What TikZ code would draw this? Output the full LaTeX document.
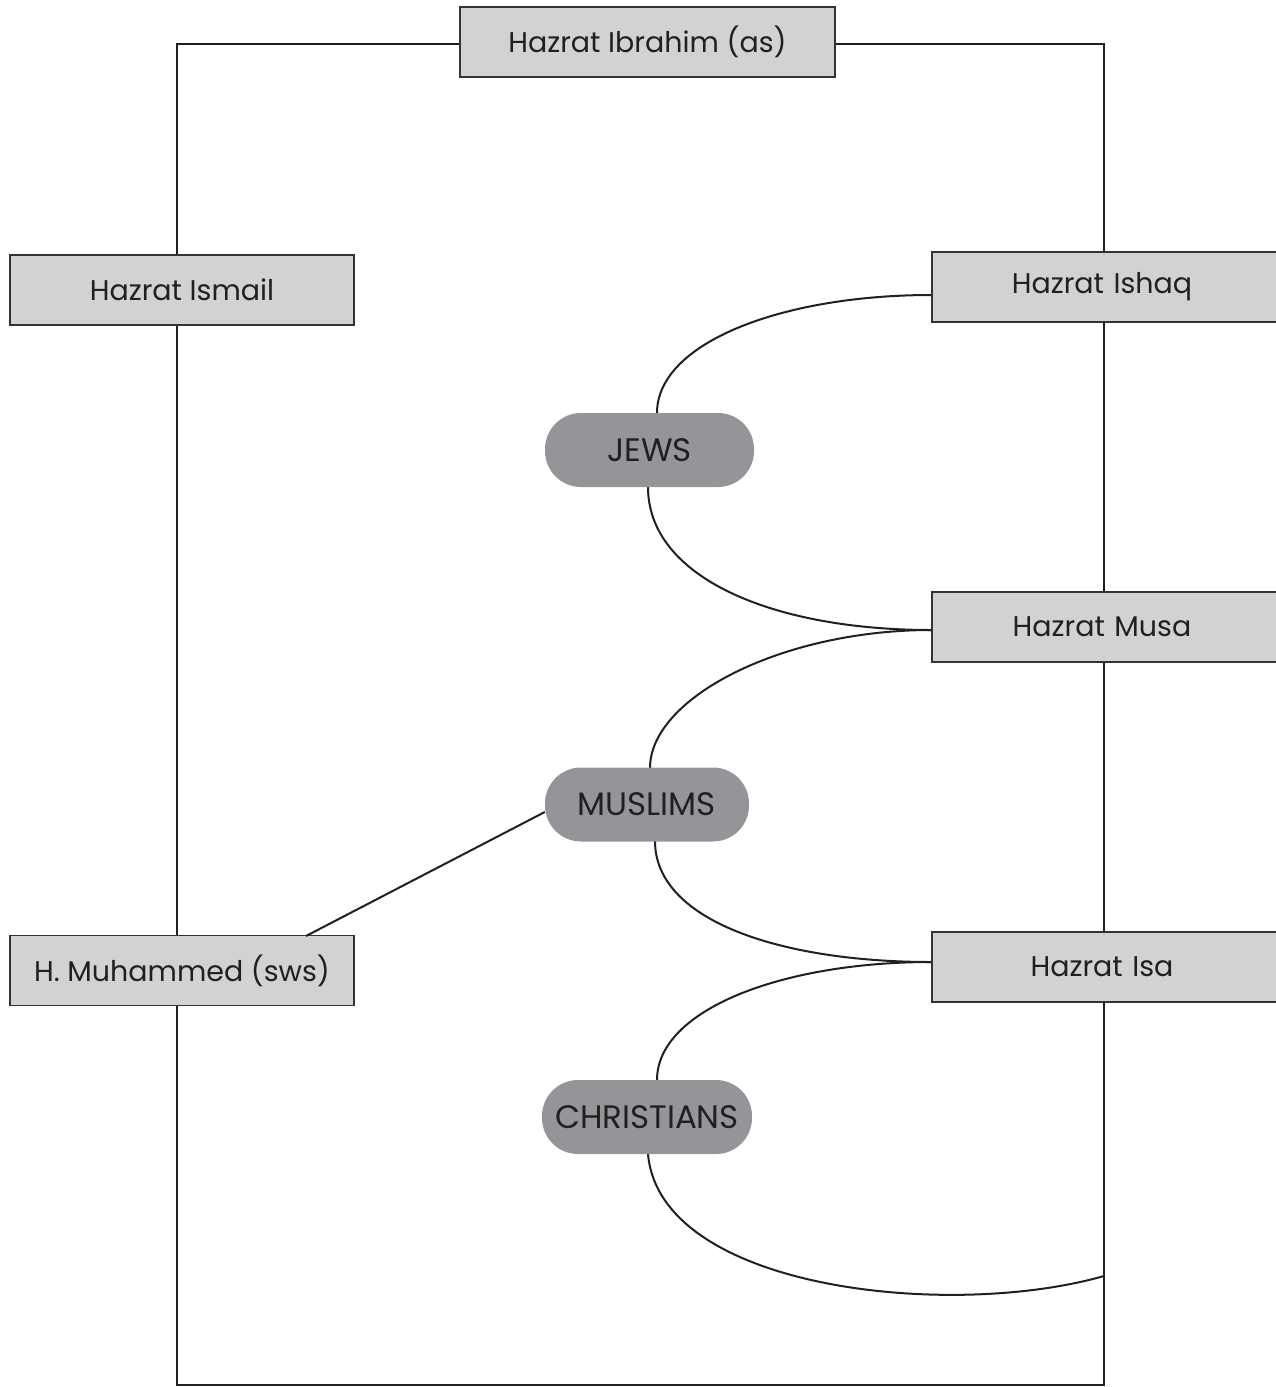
\documentclass[tikz,border=0pt]{standalone}
\usepackage{fontspec}
\setmainfont{Poppins}
\begin{document}
\begin{tikzpicture}[x=1pt,y=-1pt,
  pbox/.style={draw=black!80, line width=1.3pt, fill=boxgray, minimum height=70pt, inner sep=0pt, font=\fontsize{28.5}{32}\selectfont, text=textdark},
  pill/.style={fill=pillgray, rounded corners=36pt, minimum height=74pt, inner sep=0pt, font=\fontsize{32.5}{36}\selectfont, text=textdark},
  link/.style={line width=2pt, draw=textdark}]
\definecolor{boxgray}{HTML}{D1D2D4}
\definecolor{pillgray}{HTML}{939598}
\definecolor{textdark}{HTML}{231F20}
\useasboundingbox (0,0) rectangle (1276,1387);
% frame coordinates
\coordinate (bl) at (177,1385);
\coordinate (br) at (1104,1385);
\coordinate (endc) at (1104,1276);
% boxes
\node[pbox, minimum width=375pt] (ibrahim) at (647.5,42) {Hazrat Ibrahim (as)};
\node[pbox, minimum width=344pt] (ismail) at (182,290) {Hazrat Ismail};
\node[pbox, minimum width=344pt] (muh) at (182,970.5) {H. Muhammed (sws)};
\node[pbox, minimum width=348pt, text width=344pt, align=center] (ishaq) at (1106,287) {\hspace*{-8pt}Hazrat Ishaq};
\node[pbox, minimum width=348pt, text width=344pt, align=center] (musa) at (1106,627) {\hspace*{-8pt}Hazrat Musa};
\node[pbox, minimum width=348pt, text width=344pt, align=center] (isa) at (1106,967) {\hspace*{-8pt}Hazrat Isa};
% frame lines
\draw[link] (ibrahim.west |- 0,44) -| (bl |- ismail.north);
\draw[link] (ibrahim.east |- 0,44) -| (br |- ishaq.north);
\draw[link] (bl |- ismail.south) -- (bl |- muh.north);
\draw[link] (bl |- muh.south) -- (bl) -- (br) -- (br |- isa.south);
\draw[link] (br |- ishaq.south) -- (br |- musa.north);
\draw[link] (br |- musa.south) -- (br |- isa.north);
% curves
\draw[link] (ishaq.west |- 0,295) .. controls +(-150,0) and +(0,-70) .. (657,413) coordinate (j1);
\draw[link] (648,487) .. controls +(0,90) and +(-160,0) .. (musa.west |- 0,630);
\draw[link] (musa.west |- 0,630) .. controls +(-150,0) and +(0,-70) .. (650,768);
\draw[link] (655,841) .. controls +(0,80) and +(-150,0) .. (isa.west |- 0,962);
\draw[link] (isa.west |- 0,962) .. controls +(-150,0) and +(0,-70) .. (657,1080);
\draw[link] (648,1154) .. controls (660,1290) and (950,1320) .. (endc);
% pills
\node[pill, minimum width=209pt] (jews) at (649.5,450) {JEWS};
\node[pill, minimum width=204pt] (muslims) at (647,804.5) {MUSLIMS};
\node[pill, minimum width=210pt] (christ) at (647,1117) {CHRISTIANS};
\draw[link] (muslims.west |- 0,812) -- (306,936) coordinate (m1);
\end{tikzpicture}
\end{document}
